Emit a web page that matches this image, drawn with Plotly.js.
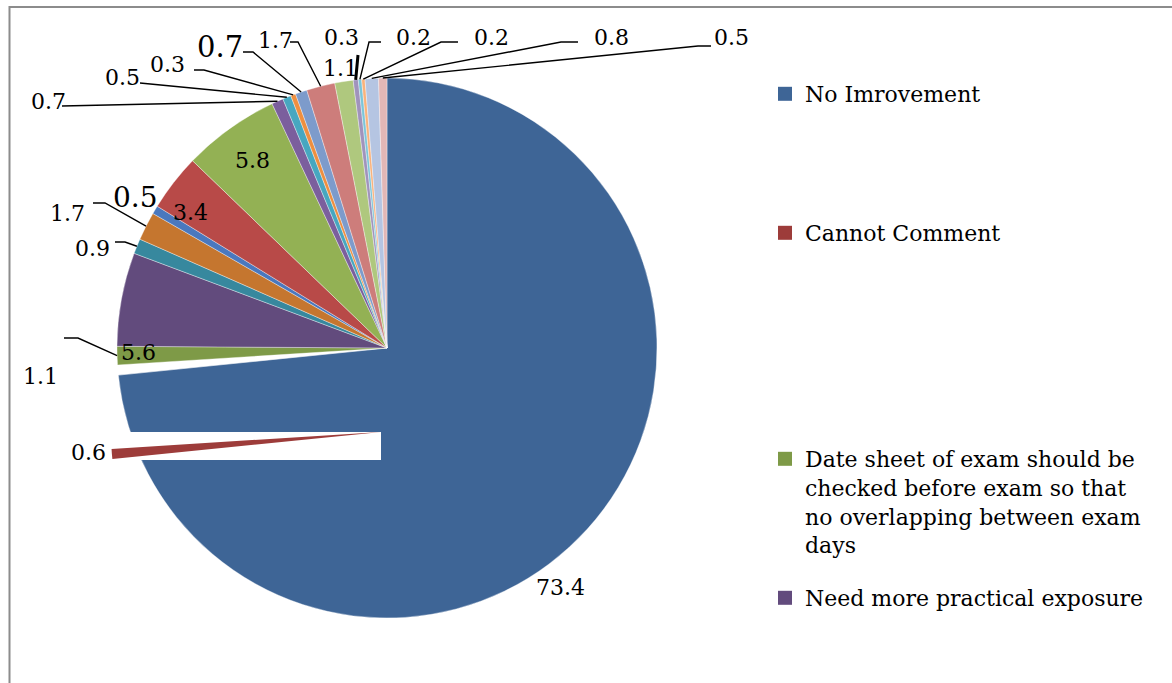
<!DOCTYPE html>
<html>
<head>
<meta charset="utf-8">
<script src="https://cdn.plot.ly/plotly-3.0.1.min.js"></script>
<style>
  html, body { margin: 0; padding: 0; background: #ffffff; overflow: hidden; }
  #wrap { position: relative; width: 1172px; height: 683px; overflow: hidden; }
  #chart { position: absolute; left: 0; top: 0; width: 1172px; height: 683px; }
  #overlay { position: absolute; left: 0; top: 0; width: 1172px; height: 900px; pointer-events: none; }
</style>
</head>
<body>
<div id="wrap">
  <div id="chart"></div>
  <div id="overlay"></div>
</div>
<script>
// ---------------- DATA ----------------
const categories = [
  "No Imrovement",
  "Cannot Comment",
  "Date sheet of exam should be checked before exam so that no overlapping between exam days",
  "Need more practical exposure",
  "Suggestion 5", "Suggestion 6", "Suggestion 7", "Suggestion 8",
  "Suggestion 9", "Suggestion 10", "Suggestion 11", "Suggestion 12",
  "Suggestion 13", "Suggestion 14", "Suggestion 15", "Suggestion 16",
  "Suggestion 17", "Suggestion 18", "Suggestion 19", "Suggestion 20"
];
const values = [73.4, 0.6, 1.1, 5.6, 0.9, 1.7, 0.5, 3.4, 5.8, 0.7,
                0.5, 0.3, 0.7, 1.7, 1.1, 0.3, 0.2, 0.2, 0.8, 0.5];
const legendLabels = [
  "No Imrovement",
  "Cannot Comment",
  "Date sheet of exam should be<br>checked before exam so that<br>no overlapping between exam<br>days",
  "Need more practical exposure"
];

// ---------------- STYLE ----------------
const colors = ["#3E6596", "#9D3C3A", "#7E9A47", "#624B7D", "#37889E",
                "#C5762F", "#4A78BE", "#B84A48", "#93B154", "#7B5F9D",
                "#47A7C0", "#EE8F40", "#7D9BCB", "#CD7D7B", "#AFC87E",
                "#A093BC", "#7CC5D9", "#F9B27C", "#B5C5E2", "#E2B7B6"];
const explodedIndex = 1;           // slice drawn displaced (Cannot Comment)
const explodeShift = [-6, 84];     // px displacement of that slice
const W = 1172, H = 683, H2 = 900; // H2: taller canvas of the overlay
const CX = 387, CY = 348, R = 270; // pie centre & radius in px
const FONT = "DejaVu Serif, Liberation Serif, serif";

// label placement (px); leader = stub points drawn before the slice edge point
const labelLayout = [
  {x: 560, y: 587, size: 22},
  {x: 88,  y: 452, size: 22},
  {x: 40,  y: 376, size: 22, leader: [[64, 338], [78, 338]]},
  {x: 138, y: 352, size: 22},
  {x: 92,  y: 249, size: 22, leader: [[115, 242], [125, 242]]},
  {x: 67,  y: 213, size: 22, leader: [[93, 203], [105, 203]]},
  {x: 135, y: 198, size: 28},
  {x: 190, y: 212, size: 22},
  {x: 252, y: 160, size: 22},
  {x: 48,  y: 102, size: 22, leader: [[62, 106]]},
  {x: 122, y: 78,  size: 22, leader: [[140, 83]]},
  {x: 167, y: 64,  size: 22, leader: [[194, 70], [204, 70]]},
  {x: 220, y: 47,  size: 29, leader: [[243, 52], [253, 52]]},
  {x: 275, y: 40,  size: 22, leader: [[290, 42], [298, 42]]},
  {x: 340, y: 68,  size: 22},
  {x: 341, y: 38,  size: 22, leader: [[358, 55]], width: 3},
  {x: 413, y: 38,  size: 22, leader: [[381, 42], [369, 42]]},
  {x: 491, y: 38,  size: 22, leader: [[458, 42], [441, 42]]},
  {x: 611, y: 38,  size: 22, leader: [[578, 42], [561, 42]]},
  {x: 731, y: 38,  size: 22, leader: [[711, 46], [698, 46]]}
];

// ---------------- HELPERS ----------------
const px2x = p => p / W;
const px2y = (p, h) => 1 - p / (h || H);
const total = values.reduce((a, b) => a + b, 0);
function sliceTip(i, rf) {
  let cum = 0;
  for (let k = 0; k < i; k++) cum += values[k];
  const frac = (cum + values[i] / 2) / total;
  const a = frac * 2 * Math.PI;          // clockwise from 12 o'clock
  return [CX + Math.sin(a) * R * rf, CY - Math.cos(a) * R * rf];
}
function pieDomain(dx, dy, h) {
  return {
    x: [px2x(CX - R + dx), px2x(CX + R + dx)],
    y: [px2y(CY + R + dy, h), px2y(CY - R + dy, h)]
  };
}

// ---------------- MAIN PIE ----------------
const mainColors = colors.map((c, i) => i === explodedIndex ? "rgba(0,0,0,0)" : c);
const pieMain = {
  type: "pie",
  labels: categories,
  values: values,
  sort: false,
  direction: "clockwise",
  rotation: 0,
  textinfo: "none",
  hoverinfo: "label+value",
  showlegend: false,
  marker: {colors: mainColors, line: {color: "rgba(255,255,255,0.6)", width: 0.6}},
  domain: pieDomain(0, 0, H)
};

// legend entries (only the four visible in the reference)
const legendY = [94, 233, 455, 598];
const legendTraces = legendLabels.map((name, k) => ({
  type: "scatter",
  mode: "markers",
  x: [null], y: [null],
  name: name,
  marker: {symbol: "square", size: 14, color: colors[k]},
  legend: k === 0 ? "legend" : "legend" + (k + 1),
  hoverinfo: "skip"
}));

function legendBox(k) {
  return {
    x: px2x(765),
    y: k === 2 ? px2y(legendY[k] - 17) : px2y(legendY[k]),
    xanchor: "left",
    yanchor: k === 2 ? "top" : "middle",
    valign: "top",
    bgcolor: "rgba(0,0,0,0)",
    borderwidth: 0,
    font: {family: FONT, size: 22, color: "#000000"},
    itemclick: false, itemdoubleclick: false
  };
}

// value labels
const annotations = labelLayout.map((L, i) => ({
  x: px2x(L.x), y: px2y(L.y), xref: "paper", yref: "paper",
  text: values[i].toFixed(1),
  showarrow: false,
  xanchor: "center", yanchor: "middle",
  font: {family: FONT, size: L.size, color: "#000000"}
}));

// leader lines: from label stub to the slice edge (computed from the data)
const shapes = [];
labelLayout.forEach((L, i) => {
  if (!L.leader) return;
  const tip = sliceTip(i, 1.0);
  const pts = L.leader.concat([tip]);
  const path = pts.map((p, j) => (j ? "L" : "M") + px2x(p[0]).toFixed(5) + "," + px2y(p[1]).toFixed(5)).join(" ");
  shapes.push({type: "path", xref: "paper", yref: "paper", path: path,
               line: {color: "#000000", width: L.width || 1.4}, layer: "above"});
});
// white band across the main slice (as in the reference)
shapes.push({type: "rect", xref: "paper", yref: "paper",
             x0: px2x(100), x1: px2x(381), y0: px2y(460), y1: px2y(432),
             fillcolor: "#ffffff", line: {width: 0}, layer: "above"});
// chart frame
shapes.push({type: "line", xref: "paper", yref: "paper",
             x0: px2x(9), x1: px2x(1172), y0: px2y(7), y1: px2y(7),
             line: {color: "#8C8C8C", width: 2}});
shapes.push({type: "line", xref: "paper", yref: "paper",
             x0: px2x(9.5), x1: px2x(9.5), y0: px2y(6), y1: px2y(683),
             line: {color: "#8C8C8C", width: 2}});

const layout = {
  width: W, height: H,
  margin: {l: 0, r: 0, t: 0, b: 0},
  paper_bgcolor: "#ffffff",
  plot_bgcolor: "rgba(0,0,0,0)",
  xaxis: {visible: false}, yaxis: {visible: false},
  showlegend: true,
  legend: legendBox(0), legend2: legendBox(1), legend3: legendBox(2), legend4: legendBox(3),
  annotations: annotations,
  shapes: shapes,
  font: {family: FONT}
};

Plotly.newPlot("chart", [pieMain].concat(legendTraces), layout, {displayModeBar: false, staticPlot: true});

// ---------------- DISPLACED SLICE (overlay) ----------------
const overlayColors = colors.map((c, i) => i === explodedIndex ? c : "rgba(0,0,0,0)");
const pieExploded = {
  type: "pie",
  labels: categories,
  values: values,
  sort: false,
  direction: "clockwise",
  rotation: 0,
  textinfo: "none",
  hoverinfo: "skip",
  showlegend: false,
  marker: {colors: overlayColors, line: {width: 0}},
  domain: pieDomain(explodeShift[0], explodeShift[1], H2)
};
Plotly.newPlot("overlay", [pieExploded], {
  width: W, height: H2,
  margin: {l: 0, r: 0, t: 0, b: 0},
  paper_bgcolor: "rgba(0,0,0,0)",
  plot_bgcolor: "rgba(0,0,0,0)",
  showlegend: false
}, {displayModeBar: false, staticPlot: true});
</script>
</body>
</html>
